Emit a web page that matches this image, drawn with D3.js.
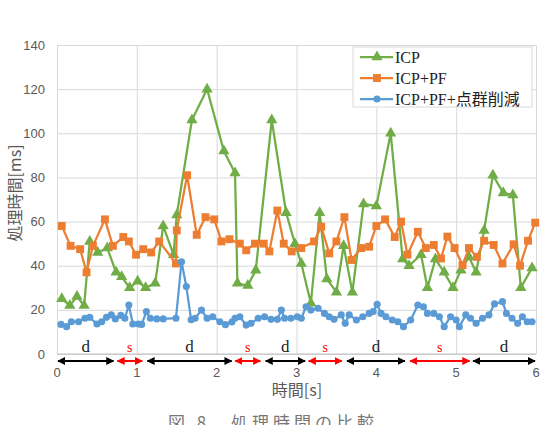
<!DOCTYPE html>
<html>
<head>
<meta charset="utf-8">
<script src="https://cdn.jsdelivr.net/npm/d3@7.9.0/dist/d3.min.js"></script>
<style>
  body { margin: 0; background: #fff; }
  svg { display: block; }
</style>
</head>
<body>
<svg id="chart" width="546" height="425"></svg>
<script>
// ICP (green triangles)
const icpTime = [0.06,0.16,0.25,0.34,0.41,0.51,0.63,0.74,0.81,0.91,1.01,1.11,1.23,1.33,1.46,1.50,1.69,1.88,2.09,2.23,2.26,2.39,2.49,2.69,2.87,2.98,3.06,3.18,3.29,3.38,3.50,3.59,3.70,3.84,4.00,4.18,4.33,4.41,4.56,4.64,4.74,4.85,4.96,5.06,5.16,5.25,5.35,5.46,5.59,5.71,5.81,5.95];
const icpMs   = [25,22,26,22,51,46,48,37,35,30,33,30,32,58,45,63,106,120,92,82,32,31,38,106,64,50,41,23,64,34,28,49,28,68,67,100,43,40,45,30,43,37,30,38,44,37,56,81,73,72,30,39];

// ICP+PF (orange squares)
const pfTime = [0.06,0.17,0.29,0.37,0.45,0.60,0.70,0.83,0.90,0.99,1.08,1.18,1.28,1.49,1.50,1.63,1.75,1.86,1.97,2.06,2.16,2.29,2.37,2.48,2.59,2.66,2.76,2.84,2.94,3.06,3.22,3.31,3.41,3.50,3.60,3.69,3.81,3.91,4.00,4.11,4.23,4.31,4.39,4.52,4.62,4.72,4.81,4.89,4.98,5.08,5.16,5.26,5.35,5.47,5.58,5.72,5.80,5.90,5.99];
const pfMs   = [58,49,47.5,37,49,61,49,53,51,45,47.5,46,51,41,56,81,54,62,61,51,52,50,47,50,50,46.5,65,50,46.5,48,51,57.7,45.6,51,62,42.6,48,48.6,58,61,53,60,45,55.4,48,49.4,43.3,53.2,48,40.3,48,44,51.3,49.4,41,49.7,40,51.3,59.5];

// ICP+PF+点群削減 (blue circles)
const redTime = [0.05,0.12,0.18,0.27,0.35,0.41,0.50,0.56,0.62,0.68,0.73,0.80,0.85,0.90,0.95,1.02,1.06,1.12,1.17,1.25,1.33,1.49,1.56,1.62,1.68,1.73,1.81,1.88,1.95,2.04,2.11,2.19,2.23,2.29,2.37,2.43,2.52,2.60,2.68,2.76,2.81,2.85,2.93,3.01,3.06,3.12,3.18,3.27,3.35,3.41,3.47,3.56,3.61,3.66,3.75,3.83,3.91,3.96,4.01,4.06,4.12,4.20,4.27,4.34,4.43,4.52,4.59,4.64,4.72,4.79,4.85,4.93,5.00,5.04,5.12,5.18,5.25,5.33,5.41,5.48,5.58,5.63,5.70,5.77,5.83,5.89,5.95];
const redMs   = [13.4,12.4,14.6,14.6,16.2,16.6,13.6,14.6,16.6,17.7,15.9,17.5,16.2,22.2,13.6,13.6,13.4,19.2,16.2,15.9,15.9,16.2,41.8,30.6,15.5,16.2,19.9,16.2,16.9,14.6,13.3,14.5,16.2,16.9,13.1,13.9,16.2,16.9,15.7,15.7,19.9,16.2,16.2,16.9,16.2,21.4,19.9,20.7,18.4,16.9,15.7,17.7,13.9,17.7,15.4,16.9,18.4,19.2,22.5,18.4,16.9,15.4,14.6,12.4,15.4,22.2,21.4,18.4,18.4,16.9,12.4,16.9,15.4,12.4,17.7,16.2,13.9,16.2,17.7,22.7,23.7,18.4,16.2,13.9,16.9,14.6,14.6];

const seriesNames = ['ICP', 'ICP+PF', 'ICP+PF+点群削減'];
const seriesColors = ['#70ad47', '#ed7d31', '#5b9bd5'];

const yTicks = [0, 20, 40, 60, 80, 100, 120, 140];
const xTicks = [0, 1, 2, 3, 4, 5, 6];

// d / s phases under the axis
const phaseLabels = ['d', 's', 'd', 's', 'd', 's', 'd', 's', 'd'];
const phaseStart  = [0, 0.745, 1.12, 2.22, 2.6, 3.14, 3.62, 4.41, 5.2];
const phaseEnd    = [0.72, 1.08, 2.2, 2.56, 3.12, 3.58, 4.37, 5.18, 6.0];

const svg = d3.select('#chart');
const plotL = 57, plotR = 536, plotT = 45, plotB = 354;

const x = d3.scaleLinear().domain([0, 6]).range([plotL, plotR]);
const y = d3.scaleLinear().domain([0, 140]).range([plotB, plotT]);

// gridlines
svg.append('g')
  .attr('transform', `translate(0,${plotB})`)
  .call(d3.axisBottom(x).tickValues(xTicks).tickSize(-(plotB - plotT)).tickFormat(''))
  .call(g => g.select('.domain').remove())
  .selectAll('line').attr('stroke', '#d9d9d9');

svg.append('g')
  .attr('transform', `translate(${plotL},0)`)
  .call(d3.axisLeft(y).tickValues(yTicks).tickSize(-(plotR - plotL)).tickFormat(''))
  .call(g => g.select('.domain').remove())
  .selectAll('line').attr('stroke', '#d9d9d9');

svg.append('line')
  .attr('x1', plotL).attr('x2', plotR).attr('y1', plotB).attr('y2', plotB)
  .attr('stroke', '#bfbfbf');

// tick labels
svg.append('g').selectAll('text').data(yTicks).join('text')
  .attr('x', 45).attr('y', d => y(d) + 4.5)
  .attr('text-anchor', 'end')
  .attr('font-family', 'Liberation Sans, Arial, sans-serif')
  .attr('font-size', 13).attr('fill', '#595959')
  .text(d => d);

svg.append('g').selectAll('text').data(xTicks).join('text')
  .attr('x', d => x(d)).attr('y', 377)
  .attr('text-anchor', 'middle')
  .attr('font-family', 'Liberation Sans, Arial, sans-serif')
  .attr('font-size', 13).attr('fill', '#595959')
  .text(d => d);

// axis titles
svg.append('text')
  .attr('transform', 'translate(21,193) rotate(-90)')
  .attr('text-anchor', 'middle')
  .attr('font-family', 'Noto Sans CJK JP, sans-serif')
  .attr('font-size', 16).attr('fill', '#595959')
  .text('処理時間[ms]');

svg.append('text')
  .attr('x', 297).attr('y', 396)
  .attr('text-anchor', 'middle')
  .attr('font-family', 'Noto Sans CJK JP, sans-serif')
  .attr('font-size', 16).attr('fill', '#595959')
  .text('時間[s]');

// series
const series = [
  { t: icpTime, v: icpMs, symbol: d3.symbolTriangle, size: 55 },
  { t: pfTime, v: pfMs, symbol: d3.symbolSquare, size: 62 },
  { t: redTime, v: redMs, symbol: d3.symbolCircle, size: 40 }
];

const line = d3.line().x(d => x(d[0])).y(d => y(d[1]));

series.forEach((s, i) => {
  const pts = s.t.map((t, j) => [t, s.v[j]]);
  svg.append('path')
    .datum(pts)
    .attr('d', line)
    .attr('fill', 'none')
    .attr('stroke', seriesColors[i])
    .attr('stroke-width', 2.25)
    .attr('stroke-linejoin', 'round');
  svg.append('g').selectAll('path').data(pts).join('path')
    .attr('transform', d => `translate(${x(d[0])},${y(d[1])})`)
    .attr('d', d3.symbol().type(s.symbol).size(s.size))
    .attr('fill', seriesColors[i]);
});

// legend
const legend = svg.append('g');
legend.append('rect')
  .attr('x', 353).attr('y', 47).attr('width', 179).attr('height', 60)
  .attr('fill', '#fff').attr('stroke', '#d9d9d9');
seriesNames.forEach((name, i) => {
  const ly = 57 + i * 21;
  legend.append('line')
    .attr('x1', 360).attr('x2', 393).attr('y1', ly).attr('y2', ly)
    .attr('stroke', seriesColors[i]).attr('stroke-width', 2.25);
  legend.append('path')
    .attr('transform', `translate(377,${ly})`)
    .attr('d', d3.symbol().type(series[i].symbol).size(series[i].size))
    .attr('fill', seriesColors[i]);
  legend.append('text')
    .attr('x', 395).attr('y', ly + 5.5)
    .attr('font-family', '"Liberation Serif", "Noto Sans CJK JP", serif')
    .attr('font-size', 16).attr('fill', '#222')
    .text(name);
});

// phase arrows
const defs = svg.append('defs');
['black', 'red'].forEach(c => {
  defs.append('marker')
    .attr('id', 'head-' + c)
    .attr('viewBox', '0 0 10 10').attr('refX', 9).attr('refY', 5)
    .attr('markerWidth', 4).attr('markerHeight', 4)
    .attr('markerUnits', 'strokeWidth')
    .attr('orient', 'auto-start-reverse')
    .append('path').attr('d', 'M0,0L10,5L0,10Z').attr('fill', c);
});

phaseLabels.forEach((lab, i) => {
  const c = lab === 's' ? 'red' : 'black';
  svg.append('line')
    .attr('x1', x(phaseStart[i]) + 1).attr('x2', x(phaseEnd[i]) - 1)
    .attr('y1', 361).attr('y2', 361)
    .attr('stroke', c).attr('stroke-width', 2)
    .attr('marker-start', `url(#head-${c})`)
    .attr('marker-end', `url(#head-${c})`);
  svg.append('text')
    .attr('x', x((phaseStart[i] + phaseEnd[i]) / 2)).attr('y', 352)
    .attr('text-anchor', 'middle')
    .attr('font-family', '"Liberation Serif", serif')
    .attr('font-size', lab === 's' ? 14 : 17)
    .attr('fill', lab === 's' ? '#ff0000' : '#222')
    .text(lab);
});

// caption (cut off at bottom, as in the reference)
svg.append('text')
  .attr('x', 273).attr('y', 429)
  .attr('text-anchor', 'middle')
  .attr('font-family', '"Noto Sans CJK JP", serif')
  .attr('font-size', 17).attr('letter-spacing', 4).attr('fill', '#777')
  .text('図 8　処理時間の比較');
</script>
</body>
</html>
